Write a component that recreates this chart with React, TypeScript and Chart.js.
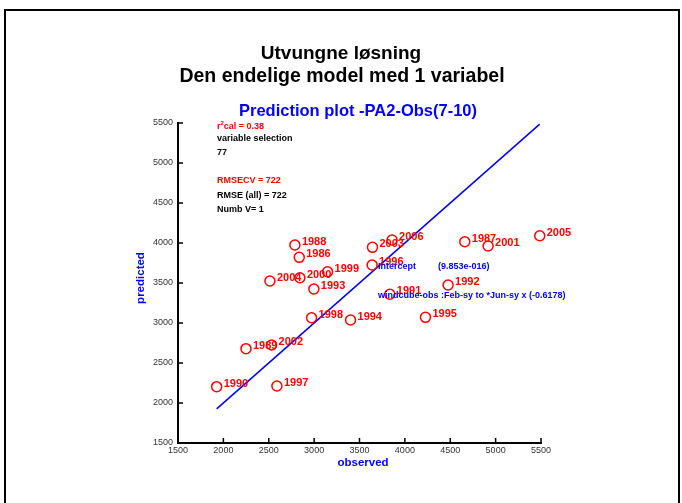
import React, { useEffect, useRef } from "react";
import { Chart, registerables } from "chart.js";

Chart.register(...registerables);

const years = [1990, 1997, 1989, 2002, 1988, 1986, 2004, 2000, 1999, 1993, 1998, 1994, 2003, 2006, 1996, 1991, 1992, 1995, 1987, 2001, 2005];
const observed = [1926, 2590, 2249, 2531, 2788, 2836, 2513, 2843, 3148, 2997, 2972, 3401, 3643, 3859, 3639, 3834, 4476, 4227, 4660, 4917, 5486];
const predicted = [2204, 2212, 2679, 2725, 3975, 3821, 3525, 3566, 3641, 3425, 3066, 3037, 3946, 4037, 3725, 3359, 3475, 3071, 4016, 3962, 4091];
const lineX = [1926, 5486];
const lineY = [1926, 5486];
const xTicks = [1500, 2000, 2500, 3000, 3500, 4000, 4500, 5000, 5500];
const yTicks = [1500, 2000, 2500, 3000, 3500, 4000, 4500, 5000, 5500];

const titleLines = ["Utvungne løsning", "Den endelige model med 1 variabel"];
const subTitle = "Prediction plot -PA2-Obs(7-10)";
const FONT = "'Liberation Sans', Arial, sans-serif";

const overlay = {
  id: "overlay",
  beforeDraw(chart: any) {
    const ctx = chart.ctx;
    ctx.save();
    ctx.fillStyle = "#fff";
    ctx.fillRect(0, 0, chart.width, chart.height);
    ctx.strokeStyle = "#000";
    ctx.lineWidth = 2;
    ctx.beginPath();
    ctx.moveTo(5, 503);
    ctx.lineTo(5, 10);
    ctx.lineTo(679, 10);
    ctx.lineTo(679, 503);
    ctx.stroke();
    ctx.restore();
  },
  afterDraw(chart: any) {
    const ctx = chart.ctx;
    const xs = chart.scales.x;
    const ys = chart.scales.y;
    const area = chart.chartArea;
    ctx.save();
    // inward tick marks
    ctx.strokeStyle = "#000";
    ctx.lineWidth = 1.5;
    ctx.beginPath();
    xTicks.forEach((v) => {
      const px = xs.getPixelForValue(v);
      ctx.moveTo(px, area.bottom);
      ctx.lineTo(px, area.bottom - 5);
    });
    yTicks.forEach((v) => {
      const py = ys.getPixelForValue(v);
      ctx.moveTo(area.left, py);
      ctx.lineTo(area.left + 5, py);
    });
    ctx.stroke();

    // titles
    ctx.fillStyle = "#000";
    ctx.textAlign = "center";
    ctx.textBaseline = "middle";
    ctx.font = `bold 19px ${FONT}`;
    ctx.fillText(titleLines[0], 341, 54);
    ctx.font = `bold 19.5px ${FONT}`;
    ctx.fillText(titleLines[1], 342, 77);
    ctx.fillStyle = "#0000ff";
    ctx.font = `bold 16.5px ${FONT}`;
    ctx.fillText(subTitle, 358, 111);

    // axis titles
    ctx.font = `bold 11.5px ${FONT}`;
    ctx.fillText("observed", 363, 463);
    ctx.save();
    ctx.translate(141, 278);
    ctx.rotate(-Math.PI / 2);
    ctx.fillText("predicted", 0, 0);
    ctx.restore();

    // annotations
    ctx.textAlign = "left";
    ctx.font = `bold 9px ${FONT}`;
    ctx.fillStyle = "#ff0000";
    ctx.fillText("r", 217, 127);
    const rw = ctx.measureText("r").width;
    ctx.font = `bold 6px ${FONT}`;
    ctx.fillText("2", 217 + rw, 123);
    const w2 = ctx.measureText("2").width;
    ctx.font = `bold 9px ${FONT}`;
    ctx.fillText("cal = 0.38", 217 + rw + w2, 127);
    ctx.fillStyle = "#000";
    ctx.fillText("variable selection", 217, 139);
    ctx.fillText("77", 217, 153);
    ctx.fillStyle = "#ff0000";
    ctx.fillText("RMSECV = 722", 217, 181);
    ctx.fillStyle = "#000";
    ctx.fillText("RMSE (all) = 722", 217, 196);
    ctx.fillText("Numb V= 1", 217, 210);

    // point labels
    const meta = chart.getDatasetMeta(0);
    ctx.fillStyle = "#ff0000";
    ctx.font = `bold 11px ${FONT}`;
    meta.data.forEach((pt: any, i: number) => {
      ctx.fillText(String(years[i]), pt.x + 7, pt.y - 3);
    });

    // blue regression annotations
    ctx.fillStyle = "#0000ff";
    ctx.font = `bold 9px ${FONT}`;
    ctx.fillText("Intercept", 378, 267);
    ctx.fillText("(9.853e-016)", 438, 267);
    ctx.fillText("windcube-obs :Feb-sy to *Jun-sy x (-0.6178)", 378, 296);
    ctx.restore();
  },
};

export default function App() {
  const ref = useRef<HTMLCanvasElement>(null);
  useEffect(() => {
    if (!ref.current) return;
    const chart = new Chart(ref.current, {
      type: "scatter",
      data: {
        datasets: [
          {
            data: observed.map((x, i) => ({ x, y: predicted[i] })),
            showLine: false,
            clip: false,
            pointStyle: "circle",
            pointRadius: 5,
            pointBorderWidth: 1.5,
            pointBorderColor: "#ff0000",
            pointBackgroundColor: "rgba(0,0,0,0)",
            borderColor: "#ff0000",
            backgroundColor: "rgba(0,0,0,0)",
          },
          {
            data: lineX.map((x, i) => ({ x, y: lineY[i] })),
            showLine: true,
            clip: false,
            pointRadius: 0,
            borderColor: "#0000ff",
            borderWidth: 1.5,
          },
        ],
      },
      options: {
        responsive: false,
        animation: false,
        layout: { padding: { left: 0, top: 123, right: 141, bottom: 0 } },
        plugins: { legend: { display: false }, tooltip: { enabled: false } },
        scales: {
          x: {
            type: "linear",
            min: 1500,
            max: 5500,
            afterFit: (s: any) => { s.height = 60; },
            afterBuildTicks: (s: any) => { s.ticks = xTicks.map((v) => ({ value: v })); },
            grid: { display: false, drawTicks: false },
            border: { display: true, color: "#000", width: 2 },
            ticks: { font: { size: 9, family: FONT }, color: "#333", padding: 2, maxRotation: 0, callback: (v: any) => String(v) },
          },
          y: {
            type: "linear",
            min: 1500,
            max: 5500,
            afterFit: (s: any) => { s.width = 178; },
            afterBuildTicks: (s: any) => { s.ticks = yTicks.map((v) => ({ value: v })); },
            grid: { display: false, drawTicks: false },
            border: { display: true, color: "#000", width: 2 },
            ticks: { font: { size: 9, family: FONT }, color: "#333", padding: 5, callback: (v: any) => String(v) },
          },
        },
      },
      plugins: [overlay],
    });
    return () => chart.destroy();
  }, []);
  return (
    <canvas
      ref={ref}
      width={682}
      height={503}
      style={{ position: "fixed", left: 0, top: 0, width: 682, height: 503, display: "block" }}
    />
  );
}
